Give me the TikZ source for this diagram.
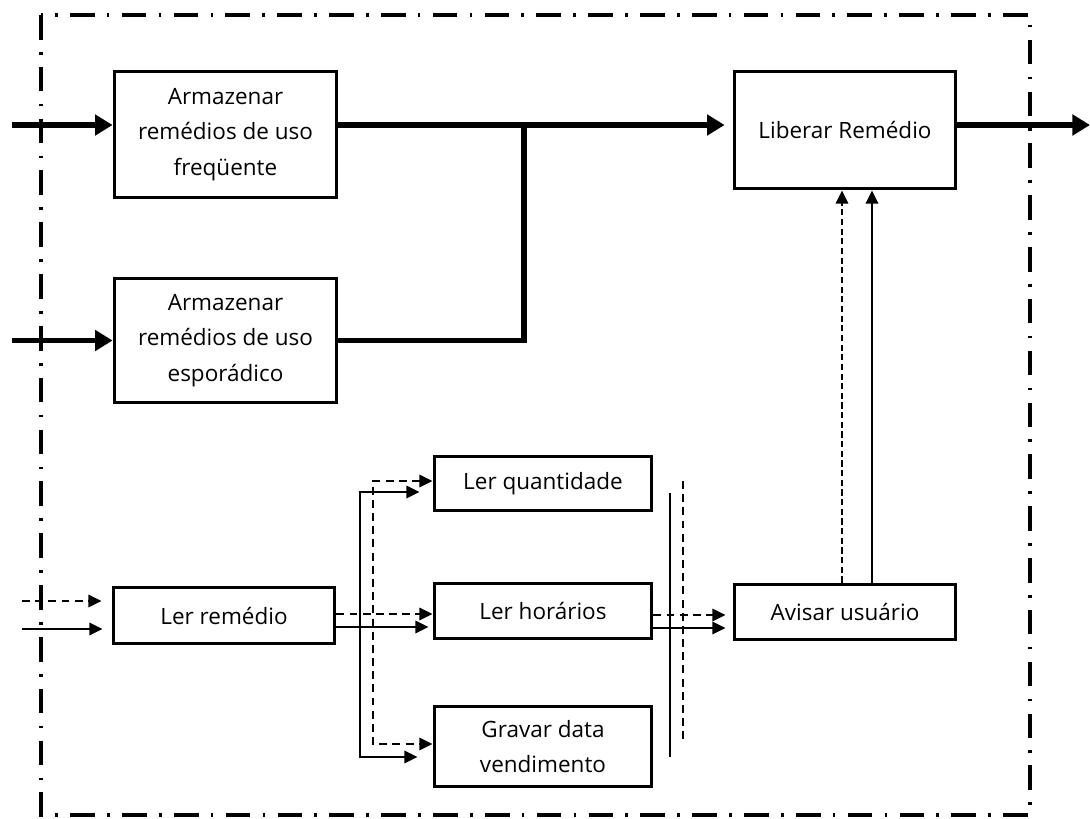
\documentclass[tikz,border=0pt]{standalone}
\usepackage{fontspec}
\setmainfont{Open Sans}
\usetikzlibrary{positioning,arrows.meta}

\begin{document}
\begin{tikzpicture}[x=0.02cm, y=-0.02cm, font=\fontsize{12.8}{20}\selectfont,
  blk/.style={draw, line width=2.2pt, align=center, inner sep=2pt},
  fatline/.style={line width=3.2pt},
  fatarr/.style={fatline, -{Triangle[length=10pt,width=11.5pt]}},
  fline/.style={line width=1.3pt},
  farr/.style={fline, -{Triangle[length=7.5pt,width=7pt]}},
  darr/.style={farr, dash pattern=on 4.5pt off 3pt},
  border/.style={line width=2pt, dash pattern=on 14pt off 7pt on 1.5pt off 7pt}]
  \useasboundingbox (0,0) rectangle (1090,819);
  \draw[border] (41,15) rectangle (1030,815);

  % boxes
  \node[blk, minimum width=4.44cm, minimum height=2.52cm] (freq) at (225.5,134.5) {Armazenar\\remédios de uso\\freqüente};
  \node[blk, minimum width=4.44cm, minimum height=2.48cm] (espo) at (225.5,340.5) {Armazenar\\remédios de uso\\esporádico};
  \node[blk, minimum width=4.42cm, minimum height=2.34cm] (liber) at (845,130) {Liberar Remédio};
  \node[blk, minimum width=4.42cm, minimum height=1.12cm] (lerrem) at (224,615.5) {Ler remédio};
  \node[blk, minimum width=4.34cm, minimum height=1.08cm] (lerqt) at (543,483.5) {Ler quantidade};
  \node[blk, minimum width=4.34cm, minimum height=1.1cm] (lerhor) at (543,611) {Ler horários};
  \node[blk, minimum width=4.34cm, minimum height=1.6cm] (gravar) at (543,746.5) {Gravar data\\vendimento};
  \node[blk, minimum width=4.42cm, minimum height=1.1cm] (avisar) at (845,612) {Avisar usuário};

  % upper part
  \coordinate (inL) at (12,125);
  \coordinate (jn) at (524,125);
  \coordinate (outR) at (1090,125);
  \draw[fatarr] (inL) -- (freq.west |- inL);
  \draw[fatarr] (inL |- espo.west) -- (espo.west);
  \draw[fatarr, shorten >=0.16cm] (freq.east |- inL) -- (liber.west |- inL);
  \draw[fatline] (espo.east) -| (jn);
  \draw[fatarr] (liber.east |- outR) -- (outR);

  % lower part
  \coordinate (inD) at (22,601);
  \coordinate (inS) at (22,629);
  \draw[darr, shorten >=0.2cm] (inD) -- (lerrem.west |- inD);
  \draw[farr, shorten >=0.18cm] (inS) -- (lerrem.west |- inS);

  \coordinate (md) at (0,614);
  \coordinate (ms) at (0,627);
  \draw[darr] (lerrem.east |- md) -- (lerhor.west |- md);
  \draw[farr, shorten >=0.08cm] (lerrem.east |- ms) -- (lerhor.west |- ms);

  \coordinate (sq) at (360,492);
  \coordinate (sg) at (360,757);
  \coordinate (dq) at (373,481);
  \coordinate (dg) at (373,744);
  \draw[fline, {Triangle[length=7.5pt,width=7pt]}-{Triangle[length=7.5pt,width=7pt]},
    shorten <=0.26cm, shorten >=0.3cm] (lerqt.west |- sq) -- (sq) -- (sg) -- (gravar.west |- sg);
  \draw[darr, {Triangle[length=7.5pt,width=7pt]}-{Triangle[length=7.5pt,width=7pt]}]
    (lerqt.west |- dq) -- (dq) -- (dg) -- (gravar.west |- dg);

  % bars
  \draw[fline] (670,493) -- (670,757);
  \draw[fline, dash pattern=on 4.5pt off 3pt] (683,481) -- (683,742);

  \coordinate (hd) at (0,615);
  \coordinate (hs) at (0,628);
  \draw[darr, shorten >=0.14cm] (lerhor.east |- hd) -- (avisar.west |- hd);
  \draw[farr, shorten >=0.14cm] (lerhor.east |- hs) -- (avisar.west |- hs);

  \coordinate (vd) at (842,0);
  \coordinate (vs) at (872,0);
  \draw[darr, dash pattern=on 3.5pt off 2pt] (avisar.north -| vd) -- (liber.south -| vd);
  \draw[farr] (avisar.north -| vs) -- (liber.south -| vs);
\end{tikzpicture}
\end{document}
